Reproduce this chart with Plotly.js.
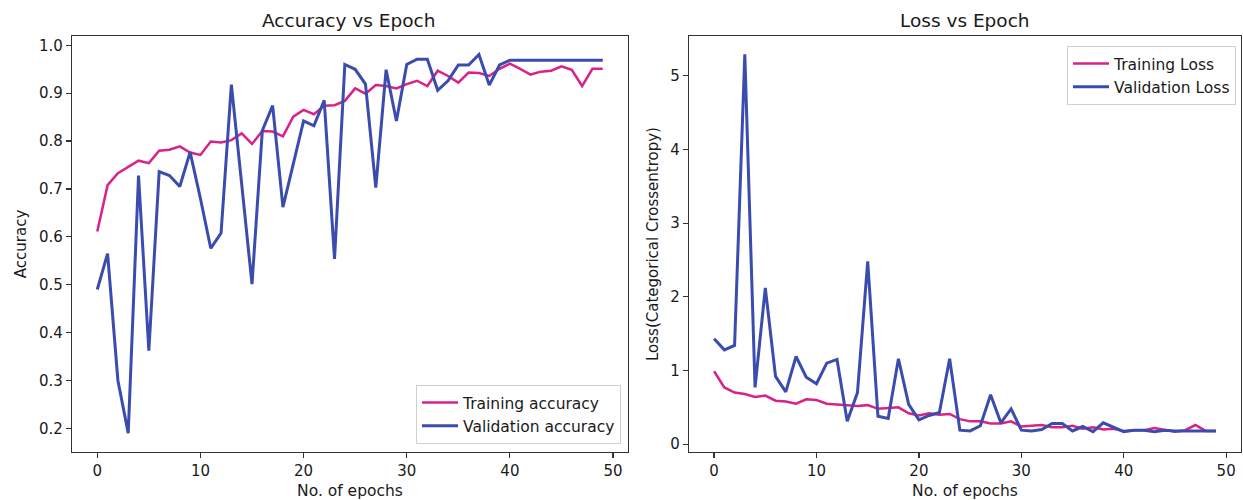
<!DOCTYPE html>
<html>
<head>
<meta charset="utf-8">
<script src="https://cdn.plot.ly/plotly-3.0.1.min.js"></script>
<style>html,body{margin:0;padding:0;background:#fff;}#chart{width:1243px;height:500px;}</style>
</head>
<body>
<div id="chart"></div>
<script>
const epochs = Array.from({length: 50}, (_, i) => i);

const trainAcc = [0.611, 0.708, 0.733, 0.746, 0.759, 0.754, 0.780, 0.782, 0.789, 0.776,
  0.771, 0.799, 0.797, 0.802, 0.816, 0.794, 0.821, 0.820, 0.810, 0.851,
  0.865, 0.856, 0.874, 0.875, 0.884, 0.910, 0.899, 0.917, 0.915, 0.910,
  0.919, 0.926, 0.915, 0.947, 0.936, 0.922, 0.943, 0.942, 0.936, 0.951,
  0.962, 0.951, 0.939, 0.945, 0.947, 0.956, 0.949, 0.915, 0.951, 0.951];

const valAcc = [0.490, 0.565, 0.300, 0.190, 0.728, 0.362, 0.736, 0.728, 0.705, 0.777,
  0.680, 0.576, 0.608, 0.918, 0.710, 0.501, 0.822, 0.874, 0.662, 0.750,
  0.842, 0.832, 0.885, 0.554, 0.960, 0.950, 0.919, 0.703, 0.949, 0.842,
  0.960, 0.971, 0.971, 0.906, 0.926, 0.959, 0.959, 0.981, 0.917, 0.959,
  0.969, 0.969, 0.969, 0.969, 0.969, 0.969, 0.969, 0.969, 0.969, 0.969];

const trainLoss = [0.99, 0.77, 0.70, 0.68, 0.64, 0.66, 0.59, 0.58, 0.55, 0.61,
  0.60, 0.55, 0.54, 0.53, 0.52, 0.53, 0.48, 0.49, 0.50, 0.42,
  0.39, 0.42, 0.40, 0.41, 0.34, 0.31, 0.31, 0.28, 0.28, 0.31,
  0.24, 0.25, 0.26, 0.23, 0.23, 0.25, 0.21, 0.23, 0.20, 0.21,
  0.18, 0.19, 0.19, 0.22, 0.20, 0.17, 0.19, 0.26, 0.18, 0.18];

const valLoss = [1.43, 1.28, 1.34, 5.29, 0.77, 2.12, 0.92, 0.71, 1.19, 0.91,
  0.82, 1.10, 1.15, 0.31, 0.70, 2.48, 0.38, 0.35, 1.16, 0.54,
  0.33, 0.39, 0.43, 1.16, 0.19, 0.18, 0.25, 0.67, 0.29, 0.48,
  0.19, 0.18, 0.20, 0.28, 0.28, 0.18, 0.24, 0.17, 0.29, 0.23,
  0.17, 0.19, 0.19, 0.17, 0.19, 0.18, 0.18, 0.19, 0.18, 0.18];

const accTicks = [0.2, 0.3, 0.4, 0.5, 0.6, 0.7, 0.8, 0.9, 1.0];
const lossTicks = [0, 1, 2, 3, 4, 5];
const epochTicks = [0, 10, 20, 30, 40, 50];

const PINK = '#d8228a';
const BLUE = '#3a4cad';
const FONT = 'DejaVu Sans, sans-serif';
const TXT = '#1a1a1a';

const traces = [
  {x: epochs, y: trainAcc, type: 'scatter', mode: 'lines', name: 'Training accuracy',
   line: {color: PINK, width: 2.5}, xaxis: 'x', yaxis: 'y', legend: 'legend'},
  {x: epochs, y: valAcc, type: 'scatter', mode: 'lines', name: 'Validation accuracy',
   line: {color: BLUE, width: 3}, xaxis: 'x', yaxis: 'y', legend: 'legend'},
  {x: epochs, y: trainLoss, type: 'scatter', mode: 'lines', name: 'Training Loss',
   line: {color: PINK, width: 2.5}, xaxis: 'x2', yaxis: 'y2', legend: 'legend2'},
  {x: epochs, y: valLoss, type: 'scatter', mode: 'lines', name: 'Validation Loss',
   line: {color: BLUE, width: 3}, xaxis: 'x2', yaxis: 'y2', legend: 'legend2'}
];

const axBase = {
  showgrid: false, zeroline: false, showline: true, mirror: true,
  linecolor: '#333', linewidth: 1.2, ticks: 'outside', ticklen: 5, tickwidth: 1.2,
  tickcolor: '#333', tickfont: {family: FONT, size: 15, color: TXT}
};

const layout = {
  width: 1243, height: 500,
  margin: {l: 0, r: 0, t: 0, b: 0},
  paper_bgcolor: '#ffffff', plot_bgcolor: '#ffffff',
  font: {family: FONT, color: TXT},
  xaxis: Object.assign({}, axBase, {
    domain: [72/1243, 628/1243], range: [-2.45, 51.45], tickvals: epochTicks,
    title: {text: 'No. of epochs', font: {family: FONT, size: 15.5, color: TXT}, standoff: 6},
    anchor: 'y'
  }),
  yaxis: Object.assign({}, axBase, {
    domain: [1 - 452/500, 1 - 36/500], range: [0.1505, 1.0195], tickvals: accTicks,
    tickformat: '.1f',
    title: {text: 'Accuracy', font: {family: FONT, size: 15, color: TXT}, standoff: 8},
    anchor: 'x'
  }),
  xaxis2: Object.assign({}, axBase, {
    domain: [689/1243, 1241/1243], range: [-2.45, 51.45], tickvals: epochTicks,
    title: {text: 'No. of epochs', font: {family: FONT, size: 15.5, color: TXT}, standoff: 6},
    anchor: 'y2'
  }),
  yaxis2: Object.assign({}, axBase, {
    domain: [1 - 452/500, 1 - 36/500], range: [-0.106, 5.54], tickvals: lossTicks,
    title: {text: 'Loss(Categorical Crossentropy)', font: {family: FONT, size: 15, color: TXT}, standoff: 8},
    anchor: 'x2'
  }),
  legend: {
    x: 621/1243, y: 1 - 444/500, xanchor: 'right', yanchor: 'bottom',
    bgcolor: 'rgba(255,255,255,0.85)', bordercolor: '#d0d0d0', borderwidth: 1,
    itemwidth: 36, tracegroupgap: 2,
    font: {family: FONT, size: 15.5, color: TXT}
  },
  legend2: {
    x: 1236/1243, y: 1 - 46/500, xanchor: 'right', yanchor: 'top',
    bgcolor: 'rgba(255,255,255,0.85)', bordercolor: '#d0d0d0', borderwidth: 1,
    itemwidth: 36,
    font: {family: FONT, size: 15.5, color: TXT}
  },
  annotations: [
    {text: 'Accuracy vs Epoch', xref: 'paper', yref: 'paper', x: 348/1243, y: 1 - 20/500,
     xanchor: 'center', yanchor: 'middle', showarrow: false,
     font: {family: FONT, size: 18.5, color: TXT}},
    {text: 'Loss vs Epoch', xref: 'paper', yref: 'paper', x: 965/1243, y: 1 - 20/500,
     xanchor: 'center', yanchor: 'middle', showarrow: false,
     font: {family: FONT, size: 18.5, color: TXT}}
  ],
  showlegend: true
};

Plotly.newPlot('chart', traces, layout, {displayModeBar: false, staticPlot: true});
</script>
</body>
</html>
